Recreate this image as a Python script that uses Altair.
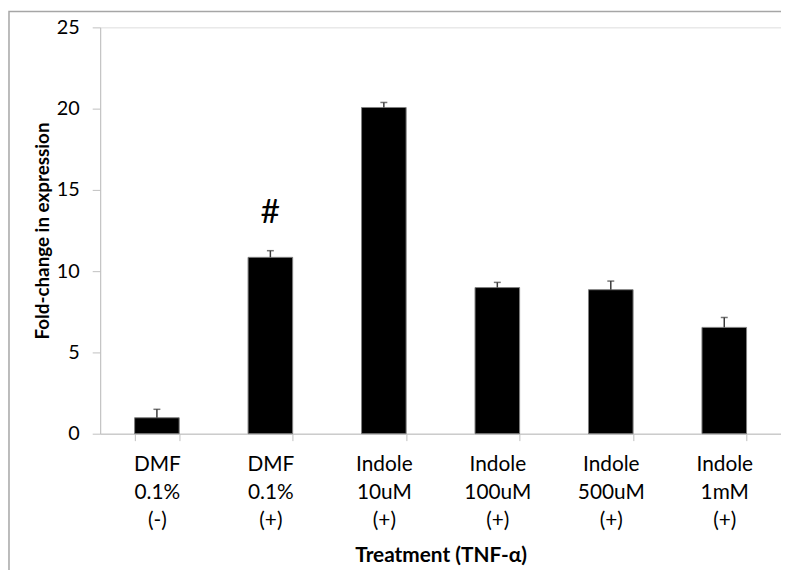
import altair as alt
import pandas as pd

categories = ["DMF\n0.1%\n(-)", "DMF\n0.1%\n(+)", "Indole\n10uM\n(+)",
              "Indole\n100uM\n(+)", "Indole\n500uM\n(+)", "Indole\n1mM\n(+)"]
values = [0.98, 10.85, 20.07, 8.99, 8.86, 6.54]
errors = [0.52, 0.41, 0.31, 0.32, 0.53, 0.61]
notes = ["", "#", "", "", "", ""]

df = pd.DataFrame({"cat": categories, "val": values, "err": errors, "note": notes})

FONT = "Lato"
AX = "#bfbfbf"

x_enc = alt.X("cat:N", sort=categories,
              scale=alt.Scale(paddingInner=0.607, paddingOuter=0.3035),
              axis=alt.Axis(title="Treatment (TNF-α)", labelAngle=0,
                            labelExpr="split(datum.label, '\\n')",
                            labelFontSize=21, labelLineHeight=28.5, labelPadding=13,
                            labelColor="#000", labelFont=FONT,
                            tickBand="extent", tickSize=7, tickColor=AX,
                            domainColor=AX, titleFont=FONT, titleFontSize=21,
                            titleFontWeight="bold", titleColor="#000",
                            titleY=123, titleBaseline="middle"))

y_scale = alt.Scale(domain=[0, 25])

bars = alt.Chart(df).mark_bar(color="#000", stroke="#7f7f7f", strokeWidth=1).encode(
    x=x_enc,
    y=alt.Y("val:Q", scale=y_scale,
            axis=alt.Axis(title="Fold-change in expression", values=[0, 5, 10, 15, 20, 25],
                          grid=False, labelFontSize=20, labelPadding=13, labelColor="#000",
                          labelFont=FONT, tickSize=8, tickColor=AX, domainColor=AX,
                          titleFont=FONT, titleFontSize=19, titleFontWeight="bold",
                          titleColor="#000", titleX=-58, titleY=205, titleAngle=270,
                          titleBaseline="middle", titleAlign="center")),
)

base = alt.Chart(df).transform_calculate(top="datum.val + datum.err")

err_line = base.mark_rule(color="#3a3a3a", strokeWidth=1.5).encode(
    x=alt.X("cat:N", sort=categories), y=alt.Y("val:Q", scale=y_scale), y2="top:Q")
err_cap = base.mark_tick(color="#3a3a3a", thickness=1.5, size=7, orient="horizontal").encode(
    x=alt.X("cat:N", sort=categories), y=alt.Y("top:Q", scale=y_scale))

note = base.mark_text(fontSize=34, font=FONT, color="#000", dy=-38, baseline="middle").encode(
    x=alt.X("cat:N", sort=categories), y=alt.Y("top:Q", scale=y_scale), text="note:N")

frame = alt.Chart(alt.Data(values=[{}])).mark_rect(fill=None, stroke="#a6a6a6", strokeWidth=1.5).encode(
    x=alt.value(-92), x2=alt.value(700), y=alt.value(-16), y2=alt.value(160 + 410))

chart = alt.layer(frame, bars, err_line, err_cap, note).properties(
    width=687, height=410,
    autosize=alt.AutoSizeParams(type="none"),
    padding={"left": 93, "top": 17, "right": 0, "bottom": 135},
).configure_view(stroke=None).configure(background="white")

chart.save("out.html", embed_options={"renderer": "svg", "actions": False})
